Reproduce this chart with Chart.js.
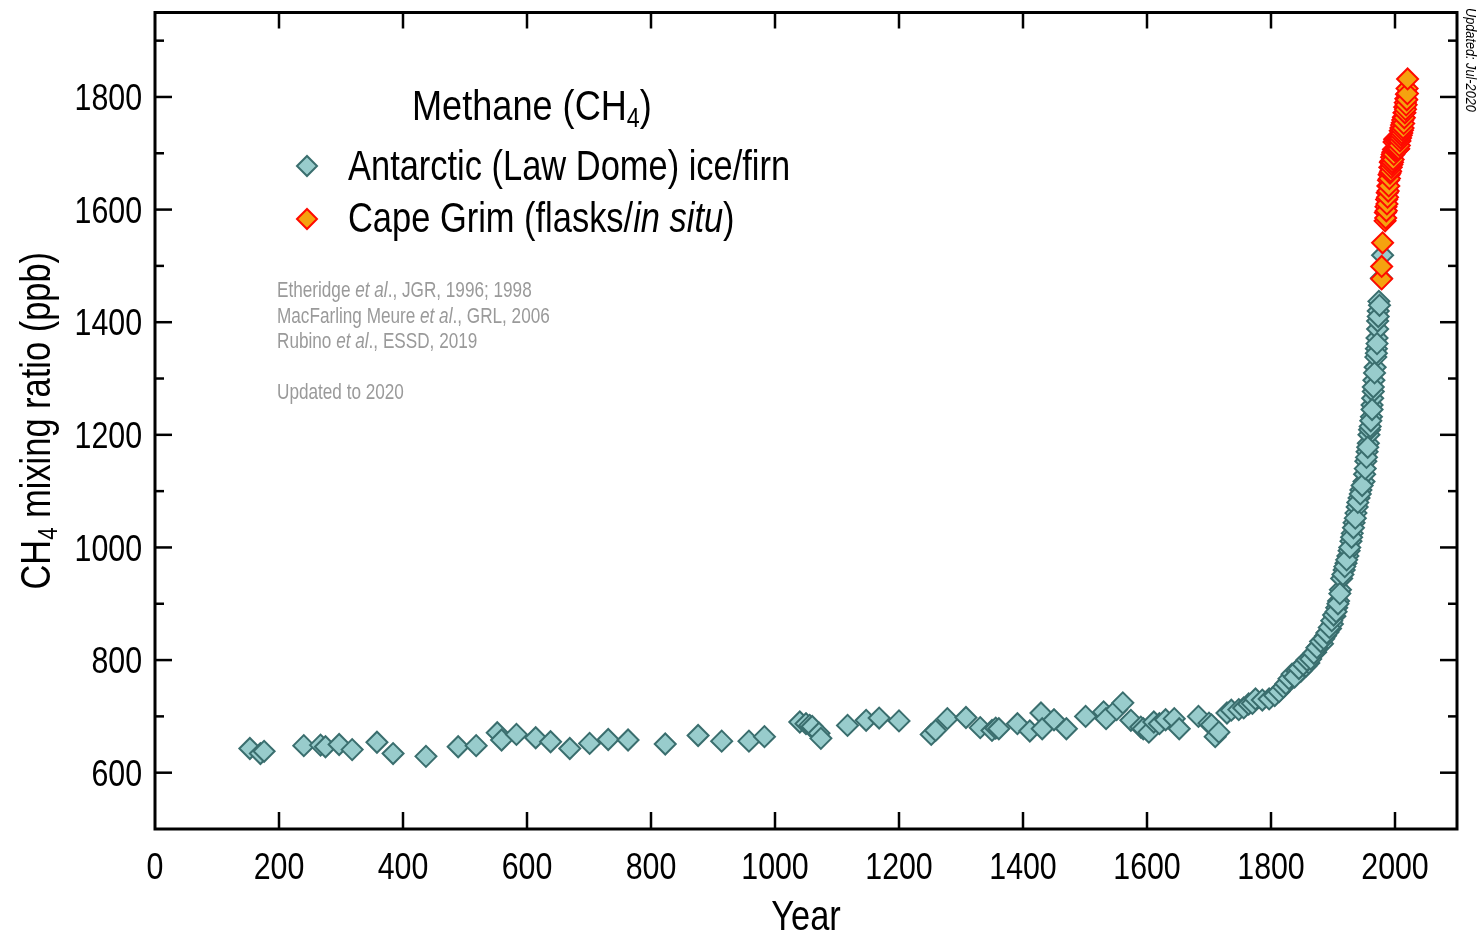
<!DOCTYPE html>
<html><head><meta charset="utf-8">
<script src="https://cdn.jsdelivr.net/npm/chart.js@4/dist/chart.umd.min.js"></script>
<style>html,body{margin:0;padding:0;background:#fff;}canvas{display:block}</style>
</head><body>
<canvas id="c" width="1478" height="934"></canvas>
<script>
// ---- DATA ----
const lawDomeYears = [153,170,176,240,267,275,297,318,358,384,437,489,518,552,559,583,614,638,669,701,731,763,823,876,914,958,983,
 1040,1050,1056,1060,1071,1074,1117,1147,1168,1200,1252,1259,1278,1308,1331,1350,1356,1361,1391,1411,1429,1431,1450,1470,
 1501,1530,1534,1551,1561,1574,1590,1594,1603,1611,1620,1630,1644,1652,1683,1700,1704,1710,1716,1729,1736,1748,1756,1764,1770,1775,
 1786,1797,1806,1813,1820,1824,1829,1834,1842,1848,1856,1861,1866,1872,1877,1883,1888,1892,1896,1899,1903,1906,1909,1912,1914,1918,
 1921,1924,1926,1929,1931,1934,1937,1939,1942,1945,1950,1951,1953,1955,1957,1958,1959,1962,1963,1964,1965,1966,1968,1969,1970,1971,
 1972,1972,1973,1974,1978,1980,
 1838,1845,1852,1858,1864,1869,1874,1880,1885,1890,1894,1898,1901,1905,1908,1911,1916,1919,1922,1927,1930,1933,1936,1940,1944,1947,
 1952,1954,1956,1960,1961,1963,1965,1967,1970,1971,1973,1975];
const lawDomeCH4 = [643,634,638,648,649,646,650,641,654,634,629,646,648,671,658,668,662,655,643,652,659,658,651,666,656,656,664,
 690,687,684,682,670,661,684,693,697,692,668,675,696,698,680,675,679,678,687,674,706,678,694,678,
 700,708,696,712,724,693,681,678,672,690,687,694,696,678,700,688,685,664,672,706,711,712,715,722,723,731,
 729,731,737,744,752,758,767,775,780,780,789,795,808,814,825,829,843,850,856,864,878,893,905,925,945,960,
 972,985,994,1011,1025,1044,1061,1072,1088,1102,1117,1130,1153,1170,1185,1200,1209,1232,1253,1265,1277,1297,1320,1338,1353,1372,
 1388,1402,1420,1437,1478,1519,
 770,785,792,800,802,812,822,833,838,848,858,870,880,886,900,918,952,966,978,1000,1018,1035,1052,1080,1095,1110,
 1140,1160,1178,1215,1225,1245,1285,1310,1345,1362,1410,1430];
const capeGrimYears = [1978.5,1978.5,1980,
 1984,1984.5,1985,1985.5,1986,1986.5,1987,1987.5,1988,1988.5,1989,1989.5,1990,1990.5,1991,1991.5,1992,1992.5,1993,1993.5,
 1994,1994.5,1995,1995.5,1996,1996.5,1997,1997.5,1998,1998.5,1999,1999.5,2000,2000.5,2001,2001.5,2002,2002.5,2003,2003.5,
 2004,2004.5,2005,2005.5,2006,2006.5,2007,2007.5,2008,2008.5,2009,2009.5,2010,2010.5,2011,2011.5,2012,2012.5,2013,2013.5,
 2014,2014.5,2015,2015.5,2016,2016.5,2017,2017.5,2018,2018.5,2019,2019.5,2020,2020.3];
const capeGrimCH4 = [1477,1499,1541,
 1580,1595,1585,1605,1598,1618,1610,1630,1622,1642,1633,1652,1642,1662,1655,1675,1665,1684,1668,1686,
 1675,1693,1680,1698,1684,1702,1689,1707,1698,1720,1706,1725,1705,1723,1706,1722,1707,1725,1710,1728,
 1709,1726,1707,1724,1708,1726,1714,1733,1722,1740,1727,1745,1732,1750,1736,1754,1741,1759,1745,1764,
 1753,1772,1763,1782,1772,1790,1778,1797,1786,1805,1795,1815,1806,1832];
const xTickValues = [0,200,400,600,800,1000,1200,1400,1600,1800,2000];
const yTickValues = [500,600,700,800,900,1000,1100,1200,1300,1400,1500,1600,1700,1800,1900];
const yTickLabels = [600,800,1000,1200,1400,1600,1800];

// ---- STYLE ----
const FONT = '"Liberation Sans",Arial,sans-serif';
const NARROW = 0.82;
const TEAL_FILL = '#98CCCC', TEAL_EDGE = '#3A6E6E';
const ORANGE_FILL = '#F5A20F', ORANGE_EDGE = '#FF0A00';
const MARKER_R = 10.5;

function pts(xs, ys){ return xs.map((x,i)=>({x:x, y:ys[i]})); }

// draws horizontally condensed text (Arial-Narrow look)
function drawRich(ctx, x, y, segs, size, align, sx){
  sx = sx || NARROW;
  const fontOf = s => (s.italic?'italic ':'') + (s.sub? Math.round(size*0.64):size) + 'px ' + FONT;
  let total = 0;
  segs.forEach(s => { ctx.font = fontOf(s); total += ctx.measureText(s.t).width; });
  ctx.save();
  ctx.translate(x, y);
  ctx.scale(sx, 1);
  ctx.textAlign = 'left';
  let cx = align === 'center' ? -total/2 : (align === 'right' ? -total : 0);
  segs.forEach(s => {
    ctx.font = fontOf(s);
    ctx.fillText(s.t, cx, s.sub ? size*0.17 : 0);
    cx += ctx.measureText(s.t).width;
  });
  ctx.restore();
}

function diamond(ctx, x, y, r, fill, edge){
  ctx.beginPath();
  ctx.moveTo(x-r,y); ctx.lineTo(x,y-r); ctx.lineTo(x+r,y); ctx.lineTo(x,y+r); ctx.closePath();
  ctx.fillStyle = fill; ctx.fill(); ctx.lineWidth = 2; ctx.strokeStyle = edge; ctx.stroke();
}

const decor = {
  id: 'decor',
  afterDraw(chart){
    const ctx = chart.ctx, a = chart.chartArea, xs = chart.scales.x, ys = chart.scales.y;
    ctx.save();
    ctx.strokeStyle = '#000'; ctx.lineCap = 'butt'; ctx.textBaseline = 'alphabetic';
    // inward tick marks on all four sides
    ctx.lineWidth = 2.5;
    xs.ticks.forEach(t => {
      const px = xs.getPixelForValue(t.value);
      if (px <= a.left + 2) return;
      ctx.beginPath(); ctx.moveTo(px, a.bottom); ctx.lineTo(px, a.bottom - 17); ctx.stroke();
      ctx.beginPath(); ctx.moveTo(px, a.top); ctx.lineTo(px, a.top + 16); ctx.stroke();
    });
    ys.ticks.forEach(t => {
      const py = ys.getPixelForValue(t.value);
      if (py >= a.bottom - 2) return;
      const len = yTickLabels.includes(t.value) ? 17 : 9;
      ctx.beginPath(); ctx.moveTo(a.left, py); ctx.lineTo(a.left + len, py); ctx.stroke();
      ctx.beginPath(); ctx.moveTo(a.right, py); ctx.lineTo(a.right - len, py); ctx.stroke();
    });
    // frame
    ctx.lineWidth = 3;
    ctx.strokeRect(a.left, a.top, a.right - a.left, a.bottom - a.top);

    ctx.fillStyle = '#000';
    // tick labels (from the scales' ticks)
    const TS = 37;
    xs.ticks.forEach(t => {
      drawRich(ctx, xs.getPixelForValue(t.value), a.bottom + 50, [{t:String(t.value)}], TS, 'center');
    });
    ys.ticks.forEach(t => {
      if (!yTickLabels.includes(t.value)) return;
      drawRich(ctx, a.left - 13, ys.getPixelForValue(t.value) + TS*0.358, [{t:String(t.value)}], TS, 'right');
    });
    // x title
    drawRich(ctx, (a.left + a.right)/2, 930, [{t:'Year'}], 42, 'center');
    // y title
    ctx.save();
    ctx.translate(50, (a.top + a.bottom)/2);
    ctx.rotate(-Math.PI/2);
    drawRich(ctx, 0, 0, [{t:'CH'},{t:'4',sub:true},{t:' mixing ratio (ppb)'}], 42, 'center');
    ctx.restore();
    // legend
    drawRich(ctx, 412, 120, [{t:'Methane (CH'},{t:'4',sub:true},{t:')'}], 42, 'left', 0.86);
    diamond(ctx, 307, 166, 10, TEAL_FILL, TEAL_EDGE);
    diamond(ctx, 307, 219, 10, ORANGE_FILL, ORANGE_EDGE);
    ctx.fillStyle = '#000';
    drawRich(ctx, 348, 180, [{t:'Antarctic (Law Dome) ice/firn'}], 42);
    drawRich(ctx, 348, 232, [{t:'Cape Grim (flasks/'},{t:'in situ',italic:true},{t:')'}], 42);
    // citations
    ctx.fillStyle = '#9a9a9a';
    drawRich(ctx, 277, 297, [{t:'Etheridge '},{t:'et al',italic:true},{t:'., JGR, 1996; 1998'}], 22, 'left', 0.78);
    drawRich(ctx, 277, 323, [{t:'MacFarling Meure '},{t:'et al',italic:true},{t:'., GRL, 2006'}], 22, 'left', 0.78);
    drawRich(ctx, 277, 348, [{t:'Rubino '},{t:'et al',italic:true},{t:'., ESSD, 2019'}], 22, 'left', 0.78);
    drawRich(ctx, 277, 399, [{t:'Updated to 2020'}], 22, 'left', 0.78);
    // updated note
    ctx.fillStyle = '#000';
    ctx.save();
    ctx.translate(1466, 8);
    ctx.rotate(Math.PI/2);
    drawRich(ctx, 0, 0, [{t:'Updated: Jul-2020',italic:true}], 15.5);
    ctx.restore();
    ctx.restore();
  }
};

new Chart(document.getElementById('c'), {
  type: 'scatter',
  data: {
    datasets: [
      { label: 'Cape Grim (flasks/in situ)', data: pts(capeGrimYears, capeGrimCH4), order: 1,
        pointStyle: 'rectRot', pointRadius: MARKER_R, pointHoverRadius: MARKER_R, backgroundColor: ORANGE_FILL, borderColor: ORANGE_EDGE, pointBorderWidth: 2, borderWidth: 2 },
      { label: 'Antarctic (Law Dome) ice/firn', data: pts(lawDomeYears, lawDomeCH4), order: 2,
        pointStyle: 'rectRot', pointRadius: MARKER_R, pointHoverRadius: MARKER_R, backgroundColor: TEAL_FILL, borderColor: TEAL_EDGE, pointBorderWidth: 2, borderWidth: 2 }
    ]
  },
  options: {
    responsive: false, animation: false, devicePixelRatio: 1,
    layout: { padding: { left: 0, top: 10, right: 21, bottom: 0 } },
    plugins: { legend: { display: false }, tooltip: { enabled: false } },
    scales: {
      x: { type: 'linear', min: 0, max: 2100,
        afterBuildTicks: s => { s.ticks = xTickValues.map(v => ({ value: v })); },
        afterFit: s => { s.height = 105; },
        ticks: { display: false },
        grid: { display: false, drawTicks: false }, border: { display: false } },
      y: { type: 'linear', min: 500, max: 1950,
        afterBuildTicks: s => { s.ticks = yTickValues.map(v => ({ value: v })); },
        afterFit: s => { s.width = 155; },
        ticks: { display: false },
        grid: { display: false, drawTicks: false }, border: { display: false } }
    }
  },
  plugins: [decor]
});
</script>
</body></html>
